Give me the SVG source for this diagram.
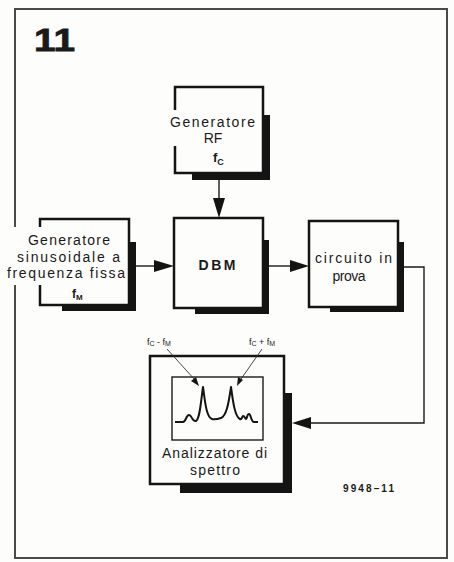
<svg xmlns="http://www.w3.org/2000/svg" width="454" height="562" viewBox="0 0 454 562">
<style>
.box{fill:#fdfdfb;stroke:#141414;stroke-width:2.5}
.sh{fill:#141414}
.ko{fill:#fdfdfb}
.t{font-family:"Liberation Sans",Arial,sans-serif;fill:#1a1a1a;font-size:14px;text-anchor:middle}
.s{font-family:"Liberation Sans",Arial,sans-serif;fill:#1a1a1a}
.ln{fill:none;stroke:#1a1a1a;stroke-width:1.4}
.ah{fill:#141414}
.thin{fill:none;stroke:#333;stroke-width:0.9}
</style>
<rect x="0" y="0" width="454" height="562" fill="#fdfdfb"/>
<rect x="15" y="9" width="432" height="549" fill="none" stroke="#4a4a4a" stroke-width="2"/>
<text x="34" y="51" class="s" font-size="31" font-weight="bold" stroke="#1a1a1a" stroke-width="0.8" textLength="41" lengthAdjust="spacingAndGlyphs">11</text>

<g id="connectors">
  <line class="ln" x1="219" y1="180" x2="219" y2="200"/>
  <polygon class="ah" points="219,218 213,198 225,198"/>
  <line class="ln" x1="136" y1="266" x2="156" y2="266"/>
  <polygon class="ah" points="174,266 154,260 154,272"/>
  <line class="ln" x1="269" y1="266" x2="291" y2="266"/>
  <polygon class="ah" points="309,266 290,260 290,272"/>
  <polyline class="ln" points="404,267 424,267 424,423 309,423"/>
  <polygon class="ah" points="292,423 311,417 311,429"/>
</g>

<g id="gen-rf">
  <path class="sh" d="M263,115 H270 V180 H192 V173 H263 Z"/>
  <rect class="box" x="175" y="87" width="88" height="86"/>
  <rect class="ko" x="167" y="110" width="93" height="36"/>
  <text class="t" x="212.5" y="127" textLength="85">Generatore</text>
  <text class="t" x="213" y="143">RF</text>
  <text class="s" x="213" y="162" font-size="13" font-weight="bold">f<tspan font-size="9" dy="3">C</tspan></text>
</g>

<g id="gen-sin">
  <path class="sh" d="M129,242 H136 V311 H62 V305 H129 Z"/>
  <rect class="box" x="40" y="219" width="89" height="86"/>
  <rect class="ko" x="4" y="227" width="123" height="58"/>
  <text class="t" x="69" y="245" textLength="82">Generatore</text>
  <text class="t" x="68.5" y="262" textLength="103">sinusoidale a</text>
  <text class="t" x="66" y="278" textLength="118">frequenza fissa</text>
  <text class="s" x="72" y="298" font-size="12" font-weight="bold">f<tspan font-size="8" dy="2">M</tspan></text>
</g>

<g id="dbm">
  <path class="sh" d="M263,240 H269 V314 H195 V308 H263 Z"/>
  <rect class="box" x="174" y="218" width="89" height="90"/>
  <text class="t" x="217" y="270" font-size="15" font-weight="bold" textLength="37">DBM</text>
</g>

<g id="circuito">
  <path class="sh" d="M398,242 H404 V312 H330 V307 H398 Z"/>
  <rect class="box" x="309" y="221" width="89" height="86"/>
  <text class="t" x="353.5" y="263" textLength="77">circuito in</text>
  <text class="t" x="349" y="281" textLength="33">prova</text>
</g>

<g id="analizzatore">
  <path class="sh" d="M284,393 H292 V493 H180 V484 H284 Z"/>
  <rect class="box" x="150" y="356" width="134" height="128"/>
  <rect x="172" y="377" width="91" height="63" fill="none" stroke="#1a1a1a" stroke-width="1.4"/>
  <path fill="none" stroke="#141414" stroke-width="2" stroke-linejoin="round" d="M175,422 H183 C186,422 186,415 189,415 C192,415 192,422 196,421 C200,419 201,400 203,387 C205,400 206,417 212,419 C215,420 218,419 221,418 C227,416 229,400 231,387 C233,402 235,417 240,419 C242,420 242,416 243,416 C245,416 245,419 246,419 C247,419 247,414 249,414 C251,414 251,422 254,422 H258"/>
  <line class="thin" x1="167" y1="349" x2="195" y2="380"/>
  <polygon class="ah" points="199,386 191,381 196,377"/>
  <line class="thin" x1="262" y1="349" x2="241" y2="379"/>
  <polygon class="ah" points="237,386 238,377 243,380"/>
  <text class="s" x="147" y="345" font-size="9">f<tspan font-size="7" dy="1">C</tspan><tspan dy="-1"> - f</tspan><tspan font-size="7" dy="1">M</tspan></text>
  <text class="s" x="249" y="345" font-size="9">f<tspan font-size="7" dy="1">C</tspan><tspan dy="-1"> + f</tspan><tspan font-size="7" dy="1">M</tspan></text>
  <text class="t" x="214.5" y="458" textLength="105">Analizzatore di</text>
  <text class="t" x="215" y="475" textLength="50">spettro</text>
</g>

<text class="s" x="343" y="492" font-size="10" font-weight="bold" textLength="51">9948–11</text>
</svg>
